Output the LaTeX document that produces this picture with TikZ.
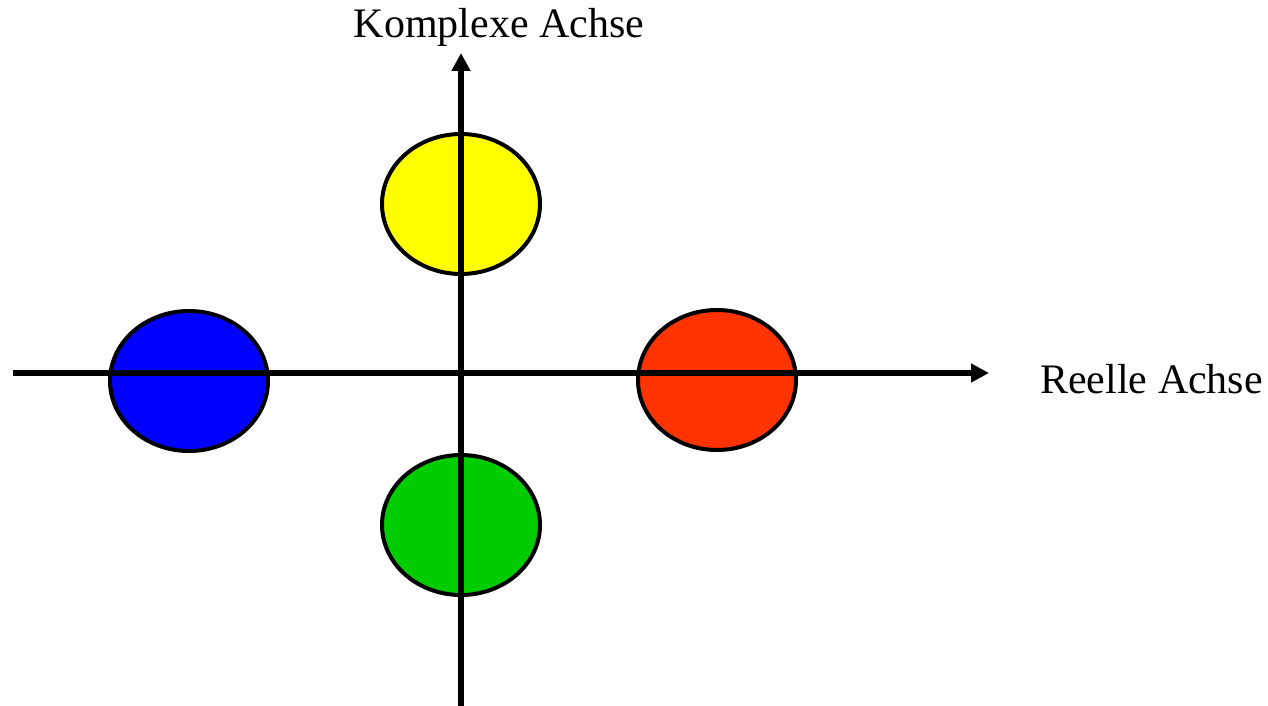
\documentclass[tikz,border=0pt]{standalone}
\usepackage{fontspec}
\setmainfont{Liberation Serif}
\usetikzlibrary{shapes.geometric,arrows.meta}
\definecolor{cyellow}{HTML}{FFFF00}
\definecolor{cblue}{HTML}{0000FF}
\definecolor{cred}{HTML}{FF3300}
\definecolor{cgreen}{HTML}{00CC00}
\begin{document}
\begin{tikzpicture}[x=1pt,y=-1pt,
  blob/.style={ellipse,draw=black,line width=4pt,minimum width=158pt,minimum height=140pt,inner sep=0pt},
  axis/.style={line width=5.5pt,-{Triangle[length=18pt,width=18pt]}},
  lbl/.style={font=\fontsize{42}{50}\selectfont,inner sep=0pt}]
\useasboundingbox (0,0) rectangle (1268,706);
\node[blob,fill=cyellow] (yel) at (461,204) {};
\node[blob,fill=cblue] (blu) at (189,381) {};
\node[blob,fill=cred] (red) at (717,380) {};
\node[blob,fill=cgreen] (grn) at (461,525) {};
\coordinate (xs) at (13,373);
\coordinate (xe) at (989,373);
\coordinate (ys) at (461,706);
\coordinate (ye) at (461,53);
\draw[axis] (xs) -- (xe);
\draw[axis] (ys) -- (ye);
\node[lbl,anchor=base] (kom) at (499,38) {Komplexe Achse};
\node[lbl,anchor=base west] (ree) at (1040,393) {Reelle Achse};
\end{tikzpicture}
\end{document}
